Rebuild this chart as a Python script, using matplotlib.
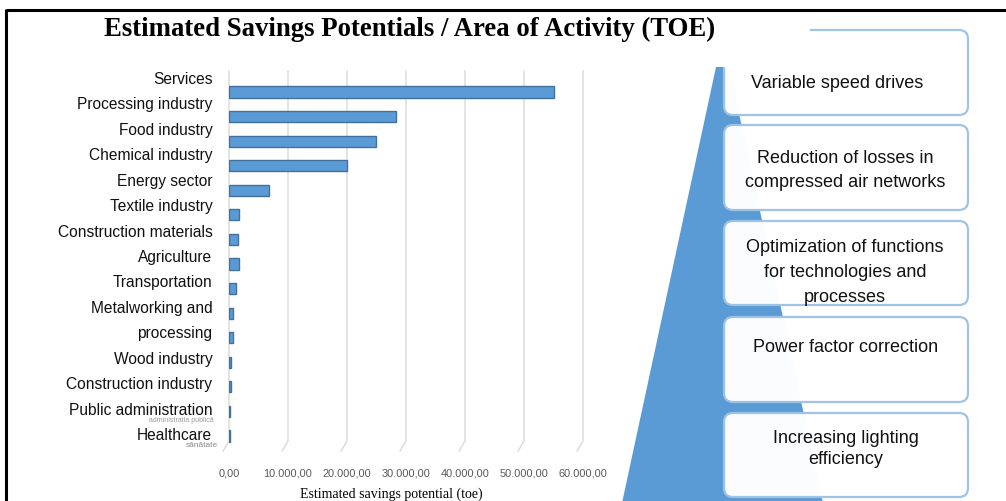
import matplotlib
matplotlib.use("Agg")
import matplotlib.pyplot as plt
import numpy as np
from matplotlib.patches import Polygon, FancyBboxPatch, Rectangle
from matplotlib.ticker import FuncFormatter

# ---------------- data ----------------
labels = ["Services", "Processing industry", "Food industry", "Chemical industry",
          "Energy sector", "Textile industry", "Construction materials", "Agriculture",
          "Transportation", "Metalworking and", "processing", "Wood industry",
          "Construction industry", "Public administration", "Healthcare"]
values = [55000, 28300, 24900, 20000, 6800, 1700, 1600, 1700,
          1200, 700, 650, 400, 400, 100, 150]
xticks = [0, 10000, 20000, 30000, 40000, 50000, 60000]
title = "Estimated Savings Potentials / Area of Activity (TOE)"
xlabel = "Estimated savings potential (toe)"
measures = [["Variable speed drives"],
            ["Reduction of losses in", "compressed air networks"],
            ["Optimization of functions", "for technologies and", "processes"],
            ["Power factor correction"],
            ["Increasing lighting", "efficiency"]]

W, H = 1006, 502
fig = plt.figure(figsize=(W / 100, H / 100), dpi=100)
fig.patch.set_facecolor("white")

BLUE = "#5b9bd5"
EDGE = "#41719c"

# ---------------- bar chart ----------------
ax_left, ax_right = 229, 583
ax_top, ax_bot = 72, 452
ax = fig.add_axes([ax_left / W, (H - ax_bot) / H, (ax_right - ax_left) / W, (ax_bot - ax_top) / H])
n = len(values)
bar_first, bar_last = 93, 437
step = (bar_last - bar_first) / (n - 1)
ax.set_xlim(0, 60000)
ax.set_ylim(n - 1 + (ax_bot - bar_last) / step, -(bar_first - ax_top) / step)
pos = np.arange(n)
ax.barh(pos, values, height=0.45, color=BLUE, edgecolor=EDGE, linewidth=1.0, zorder=3)

# grid lines with a perspective foot
y_end = n - 1 + (442 - bar_last) / step
y_foot = n - 1 + (452 - bar_last) / step
for t in xticks:
    ax.plot([t, t, t - 1000], [ax.get_ylim()[1], y_end, y_foot], color="#d9d9d9",
            lw=1.0, zorder=1, clip_on=False)

for s in ax.spines.values():
    s.set_visible(False)
ax.set_xticks(xticks)
ax.xaxis.set_major_formatter(FuncFormatter(
    lambda v, p: f"{v:,.2f}".replace(",", "X").replace(".", ",").replace("X", ".")))
ax.tick_params(axis="x", length=0, pad=12, labelsize=7.9, labelcolor="#595959")
for lab in ax.get_xticklabels():
    lab.set_family("Liberation Sans")

# category labels (offset above bars, as in the reference)
lab_first, lab_step = 78, 25.43
lab_pos = [(lab_first + lab_step * i - bar_first) / step for i in range(n)]
ax.set_yticks(lab_pos)
ax.set_yticklabels(labels, family="Liberation Sans", fontsize=11.2, color="#111111")
ax.tick_params(axis="y", length=0, pad=12)

ax.set_xlabel(xlabel, family="Liberation Serif", fontsize=10)
ax.xaxis.set_label_coords((391 - ax_left) / (ax_right - ax_left), -(494 - ax_bot) / (ax_bot - ax_top))
ax.xaxis.label.set_va("center")

# ---------------- overlay (frame, title, pyramid) ----------------
ov = fig.add_axes([0, 0, 1, 1])
ov.set_xlim(0, W)
ov.set_ylim(H, 0)
ov.axis("off")
ov.patch.set_visible(False)

# frame
ov.plot([6, W], [11, 11], color="black", lw=2.2, solid_capstyle="butt")
ov.plot([6, 6], [10, H], color="black", lw=2.2, solid_capstyle="butt")

# faint original-language sublabels
ov.text(214, 421, "administrația publică", fontsize=5, color="#9a9a9a", ha="right", va="center",
        family="Liberation Sans")
ov.text(218, 446, "sănătate", fontsize=6, color="#8a8a8a", ha="right", va="center",
        family="Liberation Sans")

# pyramid
tri = Polygon([(716, 68), (729, 68), (823, H + 2), (622, H + 2)], closed=True,
              facecolor=BLUE, edgecolor="none", zorder=1)
ov.add_patch(tri)

boxes = [(31, 116), (126, 211), (222, 306), (318, 403), (414, 498)]
bx0, bx1 = 724, 968
for i, (y0, y1) in enumerate(boxes):
    p = FancyBboxPatch((bx0, y0), bx1 - bx0, y1 - y0,
                       boxstyle="round,pad=0,rounding_size=9",
                       facecolor="white", edgecolor="#9dc3e6", lw=1.6, alpha=0.98, zorder=2)
    ov.add_patch(p)
# top-left part of the first box is cut away in the reference
ov.add_patch(Rectangle((718, 22), 92, 46, facecolor="white", edgecolor="none", zorder=3))

text_x = [837, 845, 845, 846, 846]
text_y = [[83], [159, 183], [248, 273, 298], [348], [439, 460]]
for tx, ys, lines in zip(text_x, text_y, measures):
    for ty, line in zip(ys, lines):
        ov.text(tx, ty, line, ha="center", va="center", fontsize=13, family="Liberation Sans",
                color="#111111", zorder=4)

fig.text(410 / W, 1 - 29 / H, title, ha="center", va="center", fontsize=19.3,
         family="Liberation Serif", weight="bold", zorder=5)

fig.savefig("out.png", dpi=100)
